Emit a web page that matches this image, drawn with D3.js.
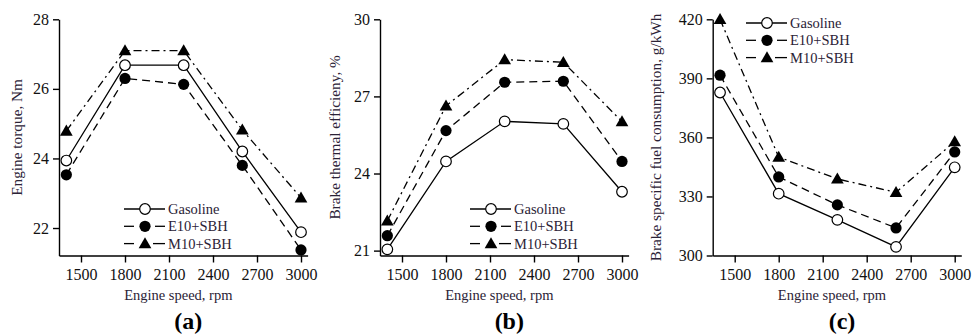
<!DOCTYPE html>
<html>
<head>
<meta charset="utf-8">
<script src="https://cdn.jsdelivr.net/npm/d3@7"></script>
<style>
  body { margin: 0; background: #fff; }
  svg { display: block; font-family: "Liberation Serif", "Times New Roman", serif; }
  .axis path, .axis line { stroke: #000; stroke-width: 1.4; }
  .axis text { font-size: 16px; fill: #111; font-family: "Liberation Serif", serif; }
</style>
</head>
<body>
<svg id="chart" width="973" height="335"></svg>
<script>
// Engine speed (rpm) for every series
const speeds = [1400, 1800, 2200, 2600, 3000];
const xTicks = [1500, 1800, 2100, 2400, 2700, 3000];
const seriesNames = ["Gasoline", "E10+SBH", "M10+SBH"];

// (a) engine torque, Nm
const torqueGasoline = [23.94, 26.68, 26.68, 24.2, 21.88];
const torqueE10 = [23.53, 26.3, 26.13, 23.8, 21.37];
const torqueM10 = [24.79, 27.1, 27.1, 24.82, 22.87];
const torqueTicks = [22, 24, 26, 28];

// (b) brake thermal efficiency, %
const bteGasoline = [21.05, 24.47, 26.03, 25.93, 23.29];
const bteE10 = [21.58, 25.67, 27.55, 27.59, 24.47];
const bteM10 = [22.16, 26.63, 28.43, 28.33, 26.02];
const bteTicks = [21, 24, 27, 30];

// (c) brake specific fuel consumption, g/kWh
const bsfcGasoline = [382.8, 331.4, 318.1, 304.4, 344.8];
const bsfcE10 = [391.6, 339.9, 325.7, 314, 352.6];
const bsfcM10 = [420, 350, 338.9, 332.1, 357.9];
const bsfcTicks = [300, 330, 360, 390, 420];

const svg = d3.select("#chart");

const styles = [
  {dash: null, marker: "open"},
  {dash: "8,5", marker: "dot"},
  {dash: "8,4,2,4", marker: "tri"}
];

const panels = [
  {x0: 59, yDomain: [21.21, 28], ticks: torqueTicks, data: [torqueGasoline, torqueE10, torqueM10],
   ylabel: "Engine torque, Nm", ylabelX: 17, tag: "(a)", legend: {x: 124, y: 209}},
  {x0: 380, yDomain: [20.81, 30], ticks: bteTicks, data: [bteGasoline, bteE10, bteM10],
   ylabel: "Brake thermal efficieny, %", ylabelX: 335, tag: "(b)", legend: {x: 470, y: 209}},
  {x0: 712.7, yDomain: [300, 420], ticks: bsfcTicks, data: [bsfcGasoline, bsfcE10, bsfcM10],
   ylabel: "Brake specific fuel consumption, g/kWh", ylabelX: 656, tag: "(c)", legend: {x: 746, y: 23}}
];

const yTop = 19.3, yBottom = 255.5;
const rowGap = 17.3;

function drawMarker(g, type, cx, cy) {
  if (type === "open") {
    g.append("circle").attr("cx", cx).attr("cy", cy).attr("r", 5.3)
      .attr("fill", "#fff").attr("stroke", "#000").attr("stroke-width", 1.2);
  } else if (type === "dot") {
    g.append("circle").attr("cx", cx).attr("cy", cy).attr("r", 5.6).attr("fill", "#000");
  } else {
    g.append("path")
      .attr("d", d3.symbol().type(d3.symbolTriangle).size(70)())
      .attr("transform", `translate(${cx},${cy + 1})`)
      .attr("fill", "#000");
  }
}

panels.forEach(p => {
  const x = d3.scaleLinear().domain([1350, 3045]).range([p.x0, p.x0 + 248.6]);
  const y = d3.scaleLinear().domain(p.yDomain).range([yBottom, yTop]);
  const g = svg.append("g");

  // Axes
  g.append("g")
    .attr("class", "axis")
    .attr("transform", `translate(0,${yBottom})`)
    .call(d3.axisBottom(x).tickValues(xTicks).tickSize(7).tickSizeOuter(0).tickPadding(6).tickFormat(d3.format("d")));

  g.append("g")
    .attr("class", "axis")
    .attr("transform", `translate(${p.x0},0)`)
    .call(d3.axisLeft(y).tickValues(p.ticks).tickSize(6).tickSizeOuter(0).tickPadding(4).tickFormat(d3.format("d")));

  // Axis labels
  g.append("text")
    .attr("x", (p.x0 + p.x0 + 248.6) / 2 - 5)
    .attr("y", 300)
    .attr("text-anchor", "middle")
    .style("font-size", "14.5px")
    .style("fill", "#2b2236")
    .text("Engine speed, rpm");

  g.append("text")
    .attr("transform", `translate(${p.ylabelX},${(yTop + yBottom) / 2}) rotate(-90)`)
    .attr("text-anchor", "middle")
    .attr("dy", "0.35em")
    .style("font-size", "15.3px")
    .style("fill", "#2b2236")
    .text(p.ylabel);

  g.append("text")
    .attr("x", (p.x0 + p.x0 + 248.6) / 2 + 5)
    .attr("y", 329)
    .attr("text-anchor", "middle")
    .style("font-size", "24px")
    .style("font-weight", "bold")
    .text(p.tag);

  // Lines
  const line = d3.line().x((d, i) => x(speeds[i])).y(d => y(d));
  p.data.forEach((vals, si) => {
    g.append("path")
      .datum(vals)
      .attr("d", line)
      .attr("fill", "none")
      .attr("stroke", "#000")
      .attr("stroke-width", 1.3)
      .attr("stroke-dasharray", styles[si].dash);
  });
  // Markers
  p.data.forEach((vals, si) => {
    vals.forEach((v, i) => drawMarker(g, styles[si].marker, x(speeds[i]), y(v)));
  });

  // Legend
  const lg = g.append("g").attr("transform", `translate(${p.legend.x},${p.legend.y})`);
  seriesNames.forEach((name, si) => {
    const row = lg.append("g").attr("transform", `translate(0,${si * rowGap})`);
    if (si === 0) {
      row.append("line").attr("x1", 0).attr("x2", 41).attr("y1", 0).attr("y2", 0)
        .attr("stroke", "#000").attr("stroke-width", 1.3);
    } else {
      row.append("line").attr("x1", 0).attr("x2", 10).attr("stroke", "#000").attr("stroke-width", 1.3);
      row.append("line").attr("x1", si === 1 ? 31 : 29).attr("x2", 41).attr("stroke", "#000").attr("stroke-width", 1.3);
    }
    drawMarker(row, styles[si].marker, 21, 0);
    row.append("text")
      .attr("x", 44)
      .attr("y", 0)
      .attr("dy", "0.35em")
      .style("font-size", "14.5px")
      .style("fill", "#2b2236")
      .text(name);
  });
});
</script>
</body>
</html>
